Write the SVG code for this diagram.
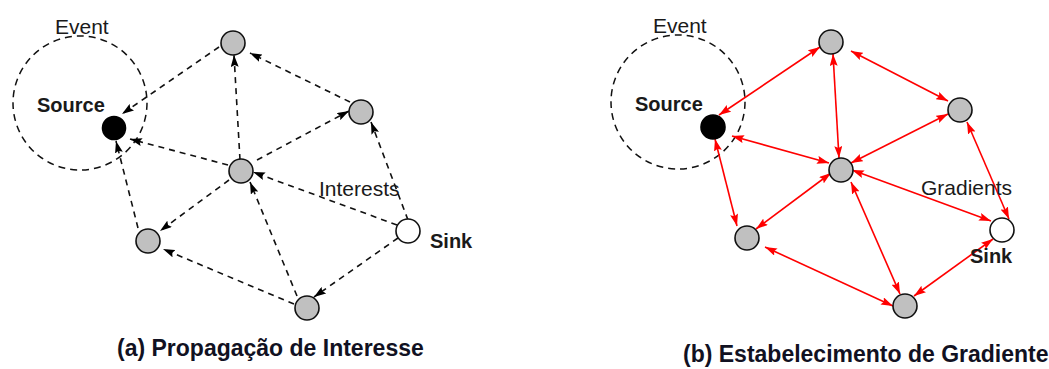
<svg xmlns="http://www.w3.org/2000/svg" width="1049" height="369" viewBox="0 0 1049 369">
  <style>
    .lbl { font-family: "Liberation Sans", Arial, sans-serif; font-size: 21px; fill: #1a1a1a; }
    .bld { font-family: "Liberation Sans", Arial, sans-serif; font-size: 20px; font-weight: bold; fill: #1a1a1a; }
    .cap { font-family: "Liberation Sans", Arial, sans-serif; font-size: 23px; font-weight: bold; fill: #111122; }
    .region { fill: none; stroke: #111; stroke-width: 1.5; stroke-dasharray: 7 5; }
    .node { fill: #c0c0c0; stroke: #111; stroke-width: 1.6; }
    .sink { fill: #ffffff; stroke: #111; stroke-width: 1.6; }
    .src { fill: #000; stroke: #000; stroke-width: 1.6; }
    .dash { fill: none; stroke: #111; stroke-width: 1.6; stroke-dasharray: 6 5; marker-end: url(#ab); }
    .red { fill: none; stroke: #ff0000; stroke-width: 1.6; marker-start: url(#ar); marker-end: url(#ar); }
  </style>
  <defs>
    <marker id="ab" viewBox="0 0 12 8" refX="12" refY="4" markerWidth="12" markerHeight="8" markerUnits="userSpaceOnUse" orient="auto">
      <path d="M0,0 L12,4 L0,8 L2,4 z" fill="#000"/>
    </marker>
    <marker id="ar" viewBox="0 0 12 8" refX="12" refY="4" markerWidth="12" markerHeight="8" markerUnits="userSpaceOnUse" orient="auto-start-reverse">
      <path d="M0,0 L12,4 L0,8 L2,4 z" fill="#ff0000"/>
    </marker>
  </defs>

  <!-- Panel (a) -->
  <g id="a-event">
    <circle class="region" cx="80" cy="103" r="67"/>
    <text class="lbl" x="55" y="34">Event</text>
    <text class="bld" x="37" y="112">Source</text>
  </g>
  <g id="a-connectors">
    <line class="dash" x1="219" y1="47" x2="122" y2="114"/>
    <line class="dash" x1="240" y1="160" x2="234" y2="55"/>
    <line class="dash" x1="350" y1="102" x2="250" y2="53"/>
    <line class="dash" x1="257" y1="160" x2="349" y2="111"/>
    <line class="dash" x1="408" y1="220" x2="371" y2="122"/>
    <line class="dash" x1="228" y1="165" x2="130" y2="139"/>
    <line class="dash" x1="138" y1="228" x2="116" y2="141"/>
    <line class="dash" x1="229" y1="180" x2="160" y2="231"/>
    <line class="dash" x1="397" y1="225" x2="253" y2="172"/>
    <line class="dash" x1="297" y1="296" x2="250" y2="182"/>
    <line class="dash" x1="294" y1="304" x2="163" y2="249"/>
    <line class="dash" x1="398" y1="238" x2="314" y2="297"/>
  </g>
  <g id="a-source"><circle class="src" cx="114" cy="128" r="11.5"/></g>
  <g id="a-top"><circle class="node" cx="233" cy="43" r="12"/></g>
  <g id="a-right"><circle class="node" cx="361" cy="112" r="12"/></g>
  <g id="a-center"><circle class="node" cx="241" cy="171" r="12"/></g>
  <g id="a-left"><circle class="node" cx="148" cy="241" r="12"/></g>
  <g id="a-bottom"><circle class="node" cx="307" cy="308" r="12"/></g>
  <g id="a-sink">
    <circle class="sink" cx="408" cy="231" r="12"/>
    <text class="bld" x="430" y="248">Sink</text>
  </g>
  <text class="lbl" x="319" y="196">Interests</text>
  <text class="cap" x="117" y="356">(a) Propagação de Interesse</text>

  <!-- Panel (b) -->
  <g id="b-event">
    <circle class="region" cx="678" cy="102" r="67"/>
    <text class="lbl" x="653" y="33">Event</text>
    <text class="bld" x="635" y="111">Source</text>
  </g>
  <g id="b-connectors">
    <line class="red" x1="719" y1="115" x2="820" y2="47"/>
    <line class="red" x1="833" y1="54" x2="839" y2="158"/>
    <line class="red" x1="851" y1="51" x2="948" y2="101"/>
    <line class="red" x1="851" y1="163" x2="948" y2="114"/>
    <line class="red" x1="967" y1="122" x2="1009" y2="219"/>
    <line class="red" x1="732" y1="136" x2="829" y2="163"/>
    <line class="red" x1="715" y1="139" x2="737" y2="226"/>
    <line class="red" x1="831" y1="173" x2="756" y2="229"/>
    <line class="red" x1="852" y1="170" x2="991" y2="221"/>
    <line class="red" x1="851" y1="182" x2="900" y2="294"/>
    <line class="red" x1="765" y1="247" x2="893" y2="306"/>
    <line class="red" x1="993" y1="239" x2="914" y2="296"/>
  </g>
  <g id="b-source"><circle class="src" cx="713" cy="127" r="12"/></g>
  <g id="b-top"><circle class="node" cx="831" cy="42" r="12"/></g>
  <g id="b-right"><circle class="node" cx="960" cy="110" r="12"/></g>
  <g id="b-center"><circle class="node" cx="841" cy="170" r="12"/></g>
  <g id="b-left"><circle class="node" cx="747" cy="238" r="12"/></g>
  <g id="b-bottom"><circle class="node" cx="905" cy="306" r="12"/></g>
  <g id="b-sink">
    <circle class="sink" cx="1002" cy="230" r="12"/>
    <text class="bld" x="970" y="263">Sink</text>
  </g>
  <text class="lbl" x="921" y="195">Gradients</text>
  <text class="cap" x="683" y="362">(b) Estabelecimento de Gradiente</text>
</svg>
